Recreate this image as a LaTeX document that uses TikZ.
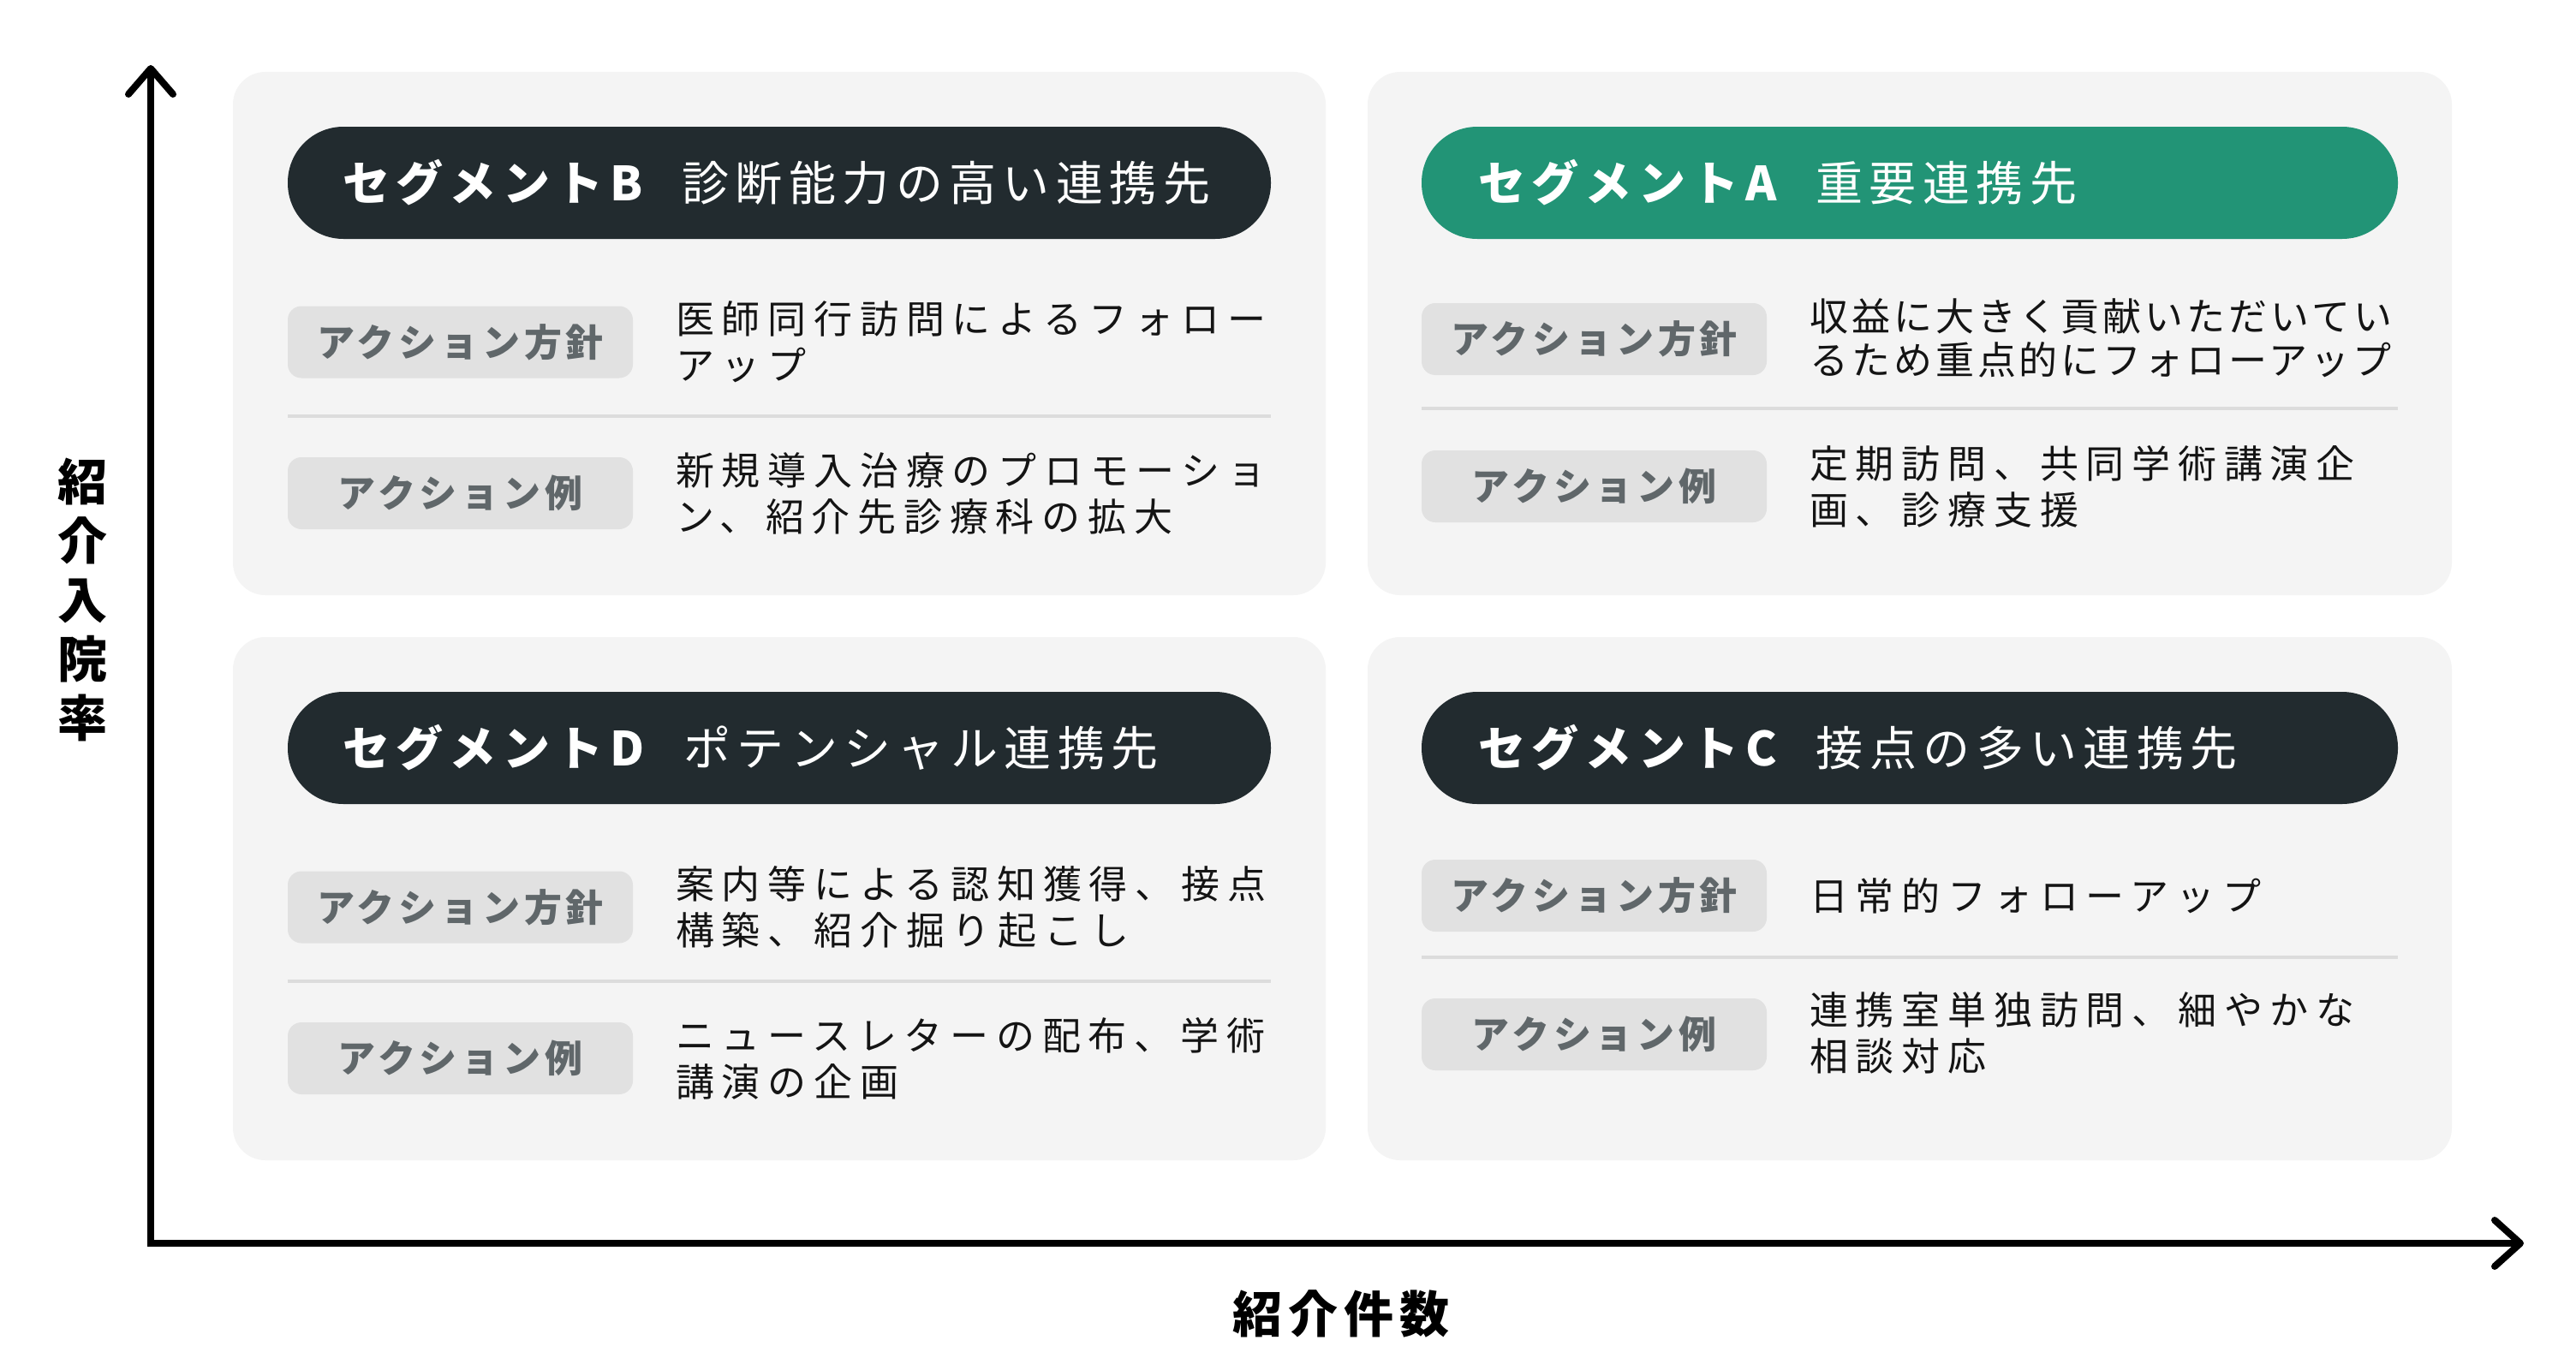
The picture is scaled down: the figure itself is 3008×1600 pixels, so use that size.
\documentclass[tikz,border=0pt]{standalone}
\usepackage{fontspec}
\setmainfont{Noto Sans CJK JP}
\newfontfamily\bodyfont[LetterSpace=19.5]{Noto Sans CJK JP}
\newfontfamily\bodyfontA[LetterSpace=8.8]{Noto Sans CJK JP}
\newfontfamily\headfont[LetterSpace=13.5]{Noto Sans CJK JP}
\newfontfamily\labfont[LetterSpace=11]{Noto Sans CJK JP}
\newfontfamily\axfont[LetterSpace=12]{Noto Sans CJK JP}
\definecolor{darkpill}{HTML}{222B2F}
\definecolor{greenpill}{HTML}{229476}
\definecolor{panelbg}{HTML}{F4F4F4}
\definecolor{labbg}{HTML}{E1E1E1}
\definecolor{labtxt}{HTML}{60676A}
\definecolor{sepcol}{HTML}{DCDCDC}
\definecolor{bodytxt}{HTML}{141414}
\tikzset{
  panel/.style={fill=panelbg, rounded corners=38pt, inner sep=0pt, draw=none},
  pill/.style={rounded corners=65pt, minimum height=131pt, inner sep=0pt, draw=none},
  labbox/.style={fill=labbg, rounded corners=16pt, minimum width=403pt, minimum height=84pt, inner sep=0pt, text=labtxt, font=\labfont\bfseries\fontsize{44}{50}\selectfont},
  bodytext/.style={anchor=west, inner sep=0pt, align=left, text=bodytxt, font=\bodyfont\fontsize{45}{54}\selectfont},
  bodytextA/.style={anchor=west, inner sep=0pt, align=left, text=bodytxt, font=\bodyfontA\fontsize{45}{51}\selectfont},
  headtext/.style={anchor=west, inner sep=0pt, text=white, font=\headfont\fontsize{55}{60}\selectfont},
  sepline/.style={draw=sepcol, line width=4pt},
  axisline/.style={draw=black, line width=8pt},
  axishead/.style={draw=black, line width=8pt, line cap=round, line join=round},
  axlabel/.style={inner sep=0pt, text=black, font=\bfseries\fontsize{58}{69}\selectfont}
}
\begin{document}
\begin{tikzpicture}[x=1pt,y=-1pt]
\path[fill=white] (0,0) rectangle (3008,1600);
\useasboundingbox (0,0) rectangle (3008,1600);

% panels
\node[panel, minimum width=1276pt, minimum height=611pt] (panB) at (910,389.5) {};
\node[panel, minimum width=1266pt, minimum height=611pt] (panA) at (2230,389.5) {};
\node[panel, minimum width=1276pt, minimum height=611pt] (panD) at (910,1049.5) {};
\node[panel, minimum width=1266pt, minimum height=611pt] (panC) at (2230,1049.5) {};

% pills
\node[pill, fill=darkpill, minimum width=1148pt] (pillB) at (910,213.5) {};
\node[pill, fill=greenpill, minimum width=1140pt] (pillA) at (2230,213.5) {};
\node[pill, fill=darkpill, minimum width=1148pt] (pillD) at (910,873.5) {};
\node[pill, fill=darkpill, minimum width=1140pt] (pillC) at (2230,873.5) {};

\node[headtext] (hB) at ([xshift=64pt]pillB.west) {{\bfseries セグメントB}\hspace{46pt}診断能力の高い連携先};
\node[headtext] (hA) at ([xshift=66pt]pillA.west) {{\bfseries セグメントA}\hspace{46pt}重要連携先};
\node[headtext] (hD) at ([xshift=64pt]pillD.west) {{\bfseries セグメントD}\hspace{46pt}ポテンシャル連携先};
\node[headtext] (hC) at ([xshift=66pt]pillC.west) {{\bfseries セグメントC}\hspace{46pt}接点の多い連携先};

% panel B
\node[labbox] (lB1) at (537.5,399.5) {アクション方針};
\node[bodytext] (tB1) at (789,399.5) {医師同行訪問によるフォロー\\アップ};
\draw[sepline] (336,485.5) -- (1484,485.5);
\node[labbox] (lB2) at (537.5,576) {アクション例};
\node[bodytext] (tB2) at (789,576) {新規導入治療のプロモーショ\\ン、紹介先診療科の拡大};

% panel A
\node[labbox] (lA1) at (1861.5,396) {アクション方針};
\node[bodytextA] (tA1) at (2113,395) {収益に大きく貢献いただいてい\\るため重点的にフォローアップ};
\draw[sepline] (1660,477) -- (2800,477);
\node[labbox] (lA2) at (1861.5,568) {アクション例};
\node[bodytext] (tA2) at (2113,568) {定期訪問、共同学術講演企\\画、診療支援};

% panel D
\node[labbox] (lD1) at (537.5,1059.5) {アクション方針};
\node[bodytext] (tD1) at (789,1059.5) {案内等による認知獲得、接点\\構築、紹介掘り起こし};
\draw[sepline] (336,1145.5) -- (1484,1145.5);
\node[labbox] (lD2) at (537.5,1236) {アクション例};
\node[bodytext] (tD2) at (789,1236) {ニュースレターの配布、学術\\講演の企画};

% panel C
\node[labbox] (lC1) at (1861.5,1046) {アクション方針};
\node[bodytext] (tC1) at (2113,1046) {日常的フォローアップ};
\draw[sepline] (1660,1117.5) -- (2800,1117.5);
\node[labbox] (lC2) at (1861.5,1208) {アクション例};
\node[bodytext] (tC2) at (2113,1206) {連携室単独訪問、細やかな\\相談対応};

% axes
\coordinate (O) at (176,1452);
\coordinate (ytip) at (176,80);
\coordinate (xtip) at (2943,1452);
\draw[axisline] (ytip) -- (O) -- (xtip);
\draw[axishead] ([shift={(-26,30)}]ytip) -- (ytip) -- ([shift={(26,30)}]ytip);
\draw[axishead] ([shift={(-30,-27)}]xtip) -- (xtip) -- ([shift={(-30,27)}]xtip);

\node[axlabel, align=center] (ylab) at (96,700) {紹\\介\\入\\院\\率};
\node[axlabel, font=\axfont\bfseries\fontsize{58}{69}\selectfont] (xlab) at (1566,1534) {紹介件数};
\end{tikzpicture}
\end{document}
